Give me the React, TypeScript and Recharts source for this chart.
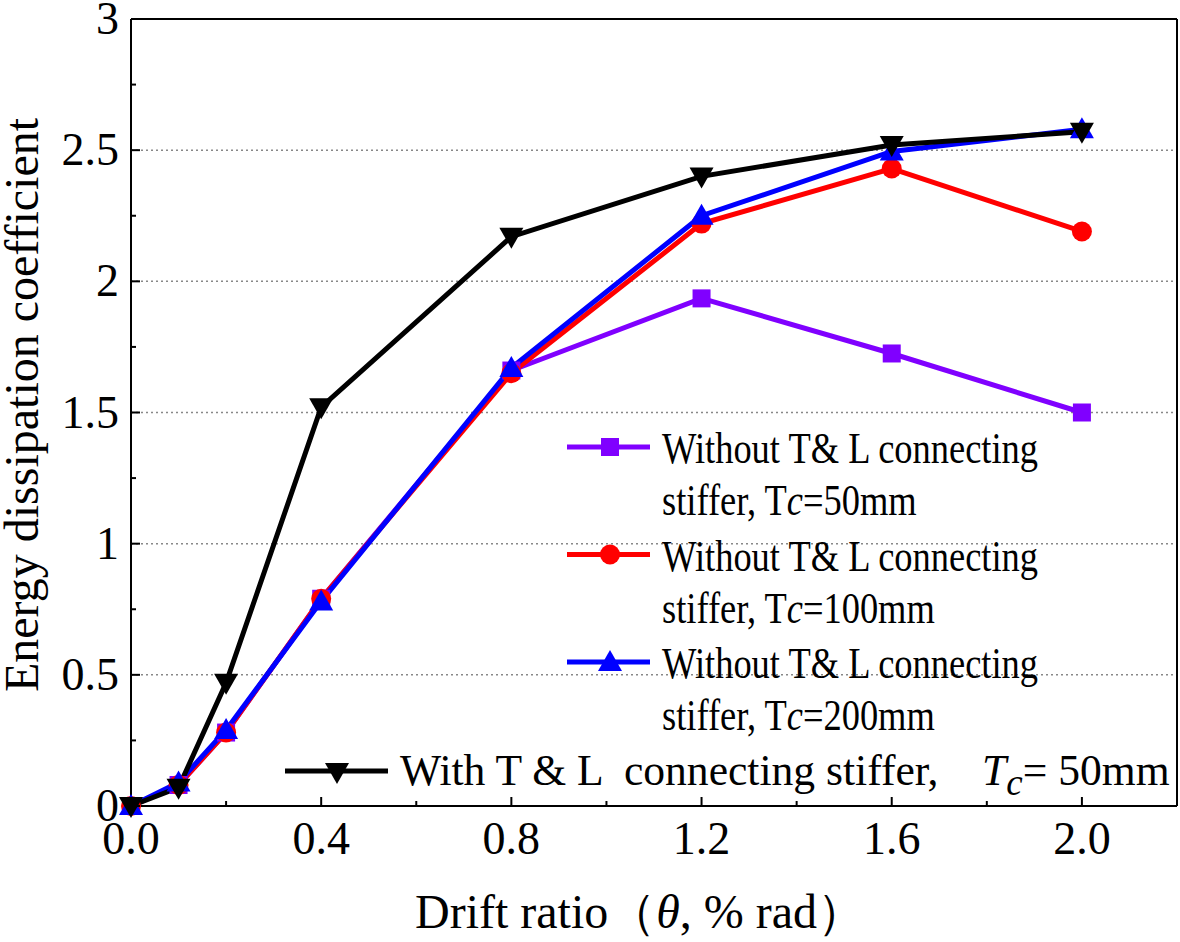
import React from 'react';
import { LineChart, Line, XAxis, YAxis, ReferenceLine } from 'recharts';

const drift = [0, 0.1, 0.2, 0.4, 0.8, 1.2, 1.6, 2.0];
const tc50 = [0, 0.08, 0.28, 0.79, 1.66, 1.935, 1.725, 1.5];
const tc100 = [0, 0.08, 0.28, 0.79, 1.65, 2.22, 2.43, 2.19];
const tc200 = [0, 0.09, 0.29, 0.78, 1.67, 2.25, 2.495, 2.58];
const withTL = [0, 0.07, 0.47, 1.52, 2.17, 2.4, 2.52, 2.57];

const xTicks = [0, 0.2, 0.4, 0.6, 0.8, 1.0, 1.2, 1.4, 1.6, 1.8, 2.0, 2.2];
const yTicks = [0, 0.25, 0.5, 0.75, 1, 1.25, 1.5, 1.75, 2, 2.25, 2.5, 2.75, 3];
const gridY = [0.5, 1, 1.5, 2, 2.5];

const FONT = '"Liberation Serif", "Times New Roman", serif';
const PURPLE = '#8000ff';
const RED = '#ff0000';
const BLUE = '#0000ff';
const BLACK = '#000000';

const data = drift.map((x, i) => ({
  x,
  tc50: tc50[i],
  tc100: tc100[i],
  tc200: tc200[i],
  withTL: withTL[i],
}));

const isMajor = (v: number, step: number) => Math.abs(Math.round(v / step) * step - v) < 1e-6;

const Marker = ({ kind, cx, cy, fill }: any) => {
  if (cx == null || cy == null) return null;
  if (kind === 'square') return <rect x={cx - 9} y={cy - 9} width={18} height={18} fill={fill} />;
  if (kind === 'circle') return <circle cx={cx} cy={cy} r={10} fill={fill} />;
  if (kind === 'up')
    return <polygon points={`${cx},${cy - 12} ${cx - 12},${cy + 9} ${cx + 12},${cy + 9}`} fill={fill} />;
  return <polygon points={`${cx},${cy + 12} ${cx - 12},${cy - 9} ${cx + 12},${cy - 9}`} fill={fill} />;
};

const XTick = ({ x, y, payload }: any) => {
  const major = isMajor(payload.value, 0.4);
  return (
    <g>
      <line x1={x} x2={x} y1={y} y2={y - (major ? 9 : 5)} stroke="#000" strokeWidth={2} />
      {major && (
        <text x={x} y={y + 48} textAnchor="middle" fontSize={46} fontFamily={FONT} fill="#000">
          {payload.value.toFixed(1)}
        </text>
      )}
    </g>
  );
};

const YTick = ({ x, y, payload }: any) => {
  const major = isMajor(payload.value, 0.5);
  return (
    <g>
      <line x1={x} x2={x + (major ? 9 : 5)} y1={y} y2={y} stroke="#000" strokeWidth={2} />
      {major && (
        <text x={x - 12} y={y + 15} textAnchor="end" fontSize={46} fontFamily={FONT} fill="#000">
          {String(payload.value)}
        </text>
      )}
    </g>
  );
};

const entries = [
  { color: PURPLE, kind: 'square', l1: 'Without T& L connecting', tc: '50mm' },
  { color: RED, kind: 'circle', l1: 'Without T& L connecting', tc: '100mm' },
  { color: BLUE, kind: 'up', l1: 'Without T& L connecting', tc: '200mm' },
];

const Overlay = () => (
  <svg width={1180} height={942} style={{ position: 'absolute', left: 0, top: 0, pointerEvents: 'none' }}>
    {/* axis titles */}
    <text
      x={38}
      y={405}
      transform="rotate(-90, 38, 405)"
      textAnchor="middle"
      fontSize={48}
      fontFamily={FONT}
      fill="#000"
    >
      Energy dissipation coefficient
    </text>
    <text x={415} y={928} fontSize={48} fontFamily={FONT} fill="#000">
      Drift ratio（<tspan fontStyle="italic">θ</tspan>, % rad）
    </text>
    {/* legend */}
    {entries.map((e, i) => {
      const y = 447 + i * 107.5;
      return (
        <g key={i}>
          <line x1={567} x2={650} y1={y} y2={y} stroke={e.color} strokeWidth={5} />
          <Marker kind={e.kind} cx={610} cy={y} fill={e.color} />
          <text transform={`translate(662, ${y + 16}) scale(0.81, 1)`} fontSize={45} fontFamily={FONT} fill="#000">
            {e.l1}
          </text>
          <text transform={`translate(662, ${y + 68}) scale(0.81, 1)`} fontSize={45} fontFamily={FONT} fill="#000">
            stiffer, T<tspan fontStyle="italic">c</tspan>={e.tc}
          </text>
        </g>
      );
    })}
    <line x1={285} x2={388} y1={771} y2={771} stroke={BLACK} strokeWidth={5} />
    <Marker kind="down" cx={337} cy={772} fill={BLACK} />
    <text x={400} y={785} fontSize={43.6} fontFamily={FONT} fill="#000" xmlSpace="preserve">
      {'With T & L  connecting stiffer,    '}
      <tspan fontStyle="italic">T</tspan>
      <tspan fontStyle="italic" fontSize={37} dy={10}>c</tspan>
      <tspan dy={-10}>= 50mm</tspan>
    </text>
  </svg>
);

export default function App() {
  return (
    <div style={{ position: 'absolute', left: 0, top: 0, width: 1180, height: 942, background: '#fff' }}>
      <LineChart width={1180} height={942} data={data} margin={{ top: 19, right: 3, bottom: 0, left: 0 }}>
        <XAxis
          dataKey="x"
          type="number"
          domain={[0, 2.2]}
          ticks={xTicks}
          interval={0}
          height={136}
          tickSize={0}
          tickMargin={0}
          tickLine={false}
          tick={<XTick />}
          axisLine={{ stroke: '#000', strokeWidth: 2 }}
        />
        <YAxis
          type="number"
          domain={[0, 3]}
          ticks={yTicks}
          interval={0}
          width={131}
          tickSize={0}
          tickMargin={0}
          tickLine={false}
          tick={<YTick />}
          axisLine={{ stroke: '#000', strokeWidth: 2 }}
        />
        {gridY.map((v) => (
          <ReferenceLine key={v} y={v} stroke="#888" strokeDasharray="2 3" strokeWidth={1.5} />
        ))}
        <ReferenceLine y={3} stroke="#000" strokeWidth={2} />
        <ReferenceLine x={2.2} stroke="#000" strokeWidth={2} />
        <Line
          dataKey="tc50"
          stroke={PURPLE}
          strokeWidth={5}
          isAnimationActive={false}
          dot={(p: any) => <Marker key={p.index} kind="square" cx={p.cx} cy={p.cy} fill={PURPLE} />}
        />
        <Line
          dataKey="tc100"
          stroke={RED}
          strokeWidth={5}
          isAnimationActive={false}
          dot={(p: any) => <Marker key={p.index} kind="circle" cx={p.cx} cy={p.cy} fill={RED} />}
        />
        <Line
          dataKey="tc200"
          stroke={BLUE}
          strokeWidth={5}
          isAnimationActive={false}
          dot={(p: any) => <Marker key={p.index} kind="up" cx={p.cx} cy={p.cy} fill={BLUE} />}
        />
        <Line
          dataKey="withTL"
          stroke={BLACK}
          strokeWidth={5}
          isAnimationActive={false}
          dot={(p: any) => <Marker key={p.index} kind="down" cx={p.cx} cy={p.cy} fill={BLACK} />}
        />
      </LineChart>
      <Overlay />
    </div>
  );
}
